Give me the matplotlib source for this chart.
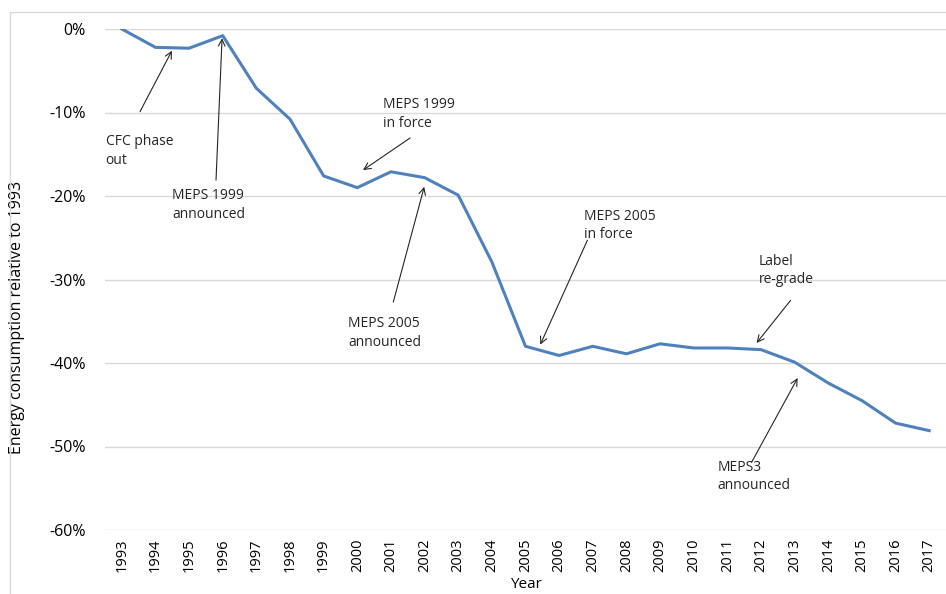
import matplotlib.pyplot as plt
from matplotlib.patches import Rectangle

plt.rcParams['font.family'] = ['Open Sans', 'DejaVu Sans']

# data
years = list(range(1993, 2018))
change = [0.0, -2.2, -2.3, -0.8, -7.1, -10.8, -17.6, -19.0, -17.1, -17.8,
          -19.9, -27.9, -38.0, -39.1, -38.0, -38.9, -37.7, -38.2, -38.2, -38.4,
          -39.9, -42.4, -44.5, -47.2, -48.1]

# annotation text, text anchor (x, y), arrow tail and arrow head (x, y)
notes = ["CFC phase\nout", "MEPS 1999\nannounced", "MEPS 1999\nin force",
         "MEPS 2005\nannounced", "MEPS 2005\nin force", "Label\nre-grade",
         "MEPS3\nannounced"]
text_xy = [(1992.52, -12.6), (1994.49, -19.1), (2000.77, -8.2),
           (1999.73, -34.4), (2006.75, -21.5), (2011.93, -26.9),
           (2010.71, -51.6)]
tail_xy = [(1993.54, -9.9), (1995.8, -18.1), (2001.57, -13.05),
           (2001.07, -32.7), (2006.84, -25.3), (2012.88, -32.5),
           (2011.72, -51.9)]
head_xy = [(1994.49, -2.6), (1995.98, -1.1), (2000.17, -16.9),
           (2001.99, -18.9), (2005.44, -37.8), (2011.87, -37.6),
           (2013.09, -41.8)]

fig = plt.figure(figsize=(9.46, 5.94), dpi=100)
ax = fig.add_axes([105 / 946, 64 / 594, 841 / 946, 501 / 594])

ax.plot(years, change, color='#4f81bd', lw=2.2, zorder=3)

for txt, t, a, h in zip(notes, text_xy, tail_xy, head_xy):
    ax.text(t[0], t[1], txt, fontsize=10, ha='left', va='top', color='#262626',
            linespacing=1.3)
    ax.annotate('', xy=h, xytext=a,
                arrowprops=dict(arrowstyle='->', color='#262626', lw=0.8,
                                mutation_scale=12, shrinkA=0, shrinkB=0))

ax.set_xlim(1992.5, 2017.5)
ax.set_ylim(-60, 0)
ax.set_xticks(years)
ax.set_xticklabels([str(y) for y in years], rotation=90, fontsize=10.5)
ax.set_yticks(range(-60, 1, 10))
ax.set_yticklabels([f'{v}%' for v in range(-60, 1, 10)], fontsize=11.5)
ax.tick_params(length=0, pad=6)
ax.tick_params(axis='y', pad=14)
ax.grid(axis='y', color='#d9d9d9', lw=1)
ax.set_axisbelow(True)
for s in ax.spines.values():
    s.set_visible(False)

ax.set_ylabel('Energy consumption relative to 1993', fontsize=11.5)
ax.yaxis.set_label_coords(-0.095, 0.425)
ax.set_xlabel('Year', fontsize=11)
ax.xaxis.set_label_coords(0.5, -0.093)

# chart frame
fig.patches.append(Rectangle((10 / 946, -0.1), 1.2, 1.1 - 12 / 594,
                             transform=fig.transFigure, fill=False,
                             edgecolor='#d9d9d9', lw=1))

fig.savefig('out.png', dpi=100)
